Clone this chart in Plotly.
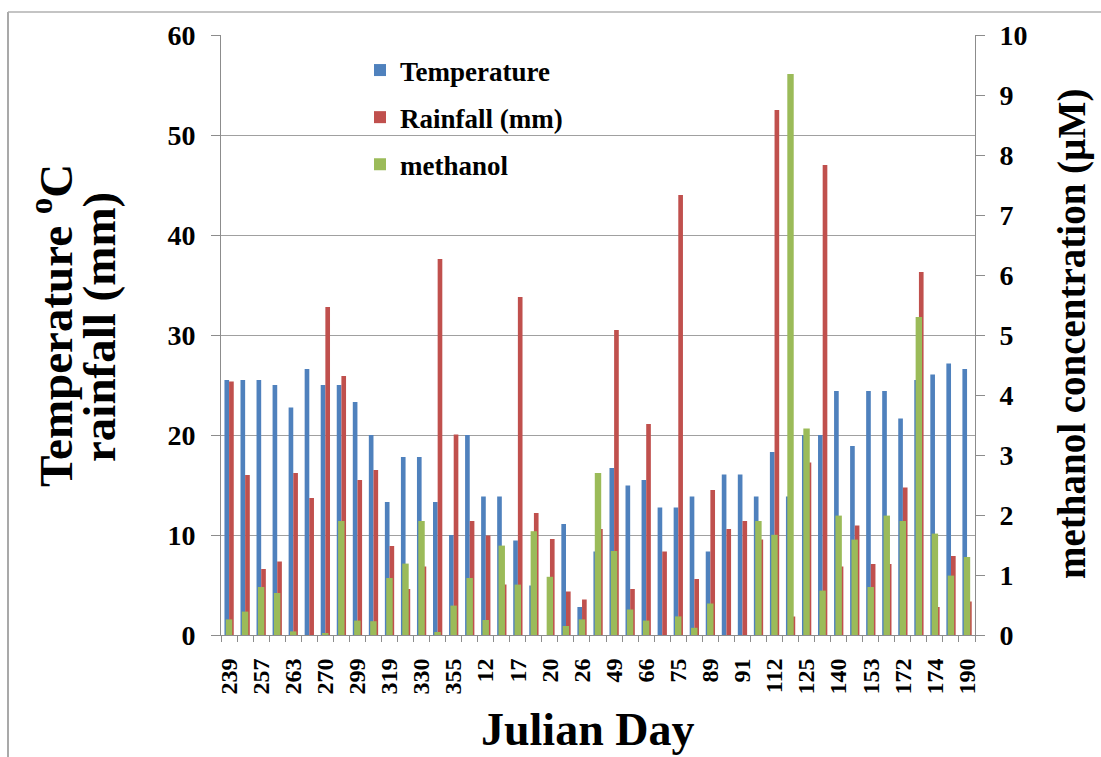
import plotly.graph_objects as go

# ---------------- data ----------------
julian_day = ["239", "", "257", "", "263", "", "270", "", "299", "", "319", "", "330", "",
              "355", "", "12", "", "17", "", "20", "", "26", "", "49", "", "66", "", "75", "",
              "89", "", "91", "", "112", "", "125", "", "140", "", "153", "", "172", "", "174", "", "190"]

temperature = [25.5, 25.5, 25.5, 25.0, 22.75, 26.6, 25.0, 25.0, 23.3, 20.0,
               13.3, 17.8, 17.8, 13.3, 10.0, 20.0, 13.85, 13.85, 9.45, 4.95,
               None, 11.1, 2.8, 8.35, 16.7, 14.95, 15.5, 12.75, 12.75, 13.85,
               8.35, 16.05, 16.05, 13.85, 18.3, 13.85, 20.0, 20.0, 24.4, 18.9,
               24.4, 24.4, 21.65, 25.5, 26.05, 27.15, 26.6]

rainfall = [25.35, 16.0, 6.6, 7.35, 16.2, 13.7, 32.8, 25.9, 15.5, 16.5,
            8.9, 4.6, 6.85, 37.6, 20.05, 11.4, 9.95, 5.05, 33.8, 12.2,
            9.6, 4.35, 3.55, 10.6, 30.5, 4.6, 21.1, 8.35, 44.0, 5.6,
            14.5, 10.6, 11.4, 9.55, 52.5, 1.85, 17.25, 47.0, 6.85, 10.95,
            7.1, 7.1, 14.75, 36.3, 2.8, 7.9, 3.35]

methanol = [0.26, 0.39, 0.80, 0.70, 0.06, 0, 0.02, 1.90, 0.24, 0.23,
            0.95, 1.19, 1.90, 0.05, 0.49, 0.95, 0.25, 1.49, 0.84, 1.73,
            0.97, 0.15, 0.26, 2.70, 1.40, 0.425, 0.24, 0, 0.31, 0.12,
            0.525, 0, 0, 1.90, 1.67, 9.35, 3.44, 0.74, 1.99, 1.59,
            0.80, 1.99, 1.90, 5.30, 1.69, 0.99, 1.30]

# ---------------- styling ----------------
W, H = 1101, 757
L, R, T, B = 221, 126, 35, 122
PW, PH = W - L - R, H - T - B

BLUE, RED, GREEN = "#4F81BD", "#C0504D", "#9BBB59"
GRID = "#A0A0A0"
AXIS = "#8C8C8C"
FONT = "Liberation Serif"


def px(xp):
    return (xp - L) / PW


def py(yp):
    return (H - B - yp) / PH


x = list(range(len(julian_day)))
label_pos = [i for i, lab in enumerate(julian_day) if lab]
label_txt = [julian_day[i] for i in label_pos]

fig = go.Figure()
fig.add_trace(go.Bar(x=x, y=temperature, name="Temperature", marker_color=BLUE,
                     marker_line_width=0, width=0.29, offset=-0.285, legendgroup="t"))
fig.add_trace(go.Bar(x=x, y=rainfall, name="Rainfall (mm)", marker_color=RED,
                     marker_line_width=0, width=0.29, offset=0.005, legendgroup="r"))
fig.add_trace(go.Bar(x=x, y=methanol, name="methanol", marker_color=GREEN,
                     marker_line_width=0, width=0.40, offset=-0.2, yaxis="y2", legendgroup="m"))

tickfont = dict(family=FONT, size=28, color="black", weight="bold")
title_font = dict(family=FONT, size=47, color="black", weight="bold")

fig.update_layout(
    width=W, height=H,
    margin=dict(l=L, r=R, t=T, b=B, autoexpand=False),
    paper_bgcolor="white", plot_bgcolor="white",
    barmode="overlay",
    showlegend=True,
    legend=dict(x=px(360), y=py(46), xanchor="left", yanchor="top",
                font=dict(family=FONT, size=27, color="black", weight="bold"),
                bgcolor="rgba(0,0,0,0)", traceorder="grouped", tracegroupgap=9),
    xaxis=dict(range=[-0.5, len(x) - 0.5], tickmode="array", tickvals=label_pos, ticktext=label_txt,
               tickangle=-90, ticks="", showgrid=False, zeroline=False, automargin=False,
               showline=True, linecolor=AXIS, linewidth=1,
               tickfont=dict(family=FONT, size=24, color="black", weight="bold"),
               ticklabelstandoff=13,
               minor=dict(tickmode="array", tickvals=[i - 0.5 for i in range(len(x) + 1)],
                          ticks="outside", ticklen=6, tickcolor=AXIS, showgrid=False)),
    yaxis=dict(range=[0, 60], dtick=10, showgrid=True, gridcolor=GRID, gridwidth=1,
               zeroline=False, showline=True, linecolor=AXIS, linewidth=1, automargin=False,
               ticks="outside", ticklen=9, tickcolor=AXIS, tickfont=tickfont,
               ticklabelstandoff=10),
    yaxis2=dict(range=[0, 10], dtick=1, overlaying="y", side="right", showgrid=False,
                zeroline=False, showline=True, linecolor=AXIS, linewidth=1, automargin=False,
                ticks="outside", ticklen=9, tickcolor=AXIS, tickfont=tickfont,
                ticklabelstandoff=9),
    annotations=[
        dict(text="Temperature <sup>o</sup>C", textangle=-90,
             x=px(52), y=py(326), xref="paper", yref="paper", showarrow=False,
             xanchor="center", yanchor="middle", font=title_font),
        dict(text="rainfall (mm)", textangle=-90,
             x=px(99), y=py(327), xref="paper", yref="paper", showarrow=False,
             xanchor="center", yanchor="middle", font=title_font),
        dict(text="methanol concentration (µM)", textangle=-90,
             x=px(1072), y=py(334), xref="paper", yref="paper", showarrow=False,
             xanchor="center", yanchor="middle",
             font=dict(family=FONT, size=39, color="black", weight="bold")),
        dict(text="Julian Day", x=px(587), y=py(729), xref="paper", yref="paper",
             showarrow=False, xanchor="center", yanchor="middle",
             font=dict(family=FONT, size=46, color="black", weight="bold")),
    ],
    shapes=[
        dict(type="line", xref="paper", yref="paper", x0=px(8), x1=px(8), y0=py(12), y1=py(800),
             line=dict(color=AXIS, width=1.5)),
        dict(type="line", xref="paper", yref="paper", x0=px(8), x1=px(1150), y0=py(12), y1=py(12),
             line=dict(color="#B0B0B0", width=1.5)),
    ],
)

fig.write_html("out.html", config={"displayModeBar": False},
               post_script="document.body.style.margin='0px';document.body.style.overflow='hidden';")
